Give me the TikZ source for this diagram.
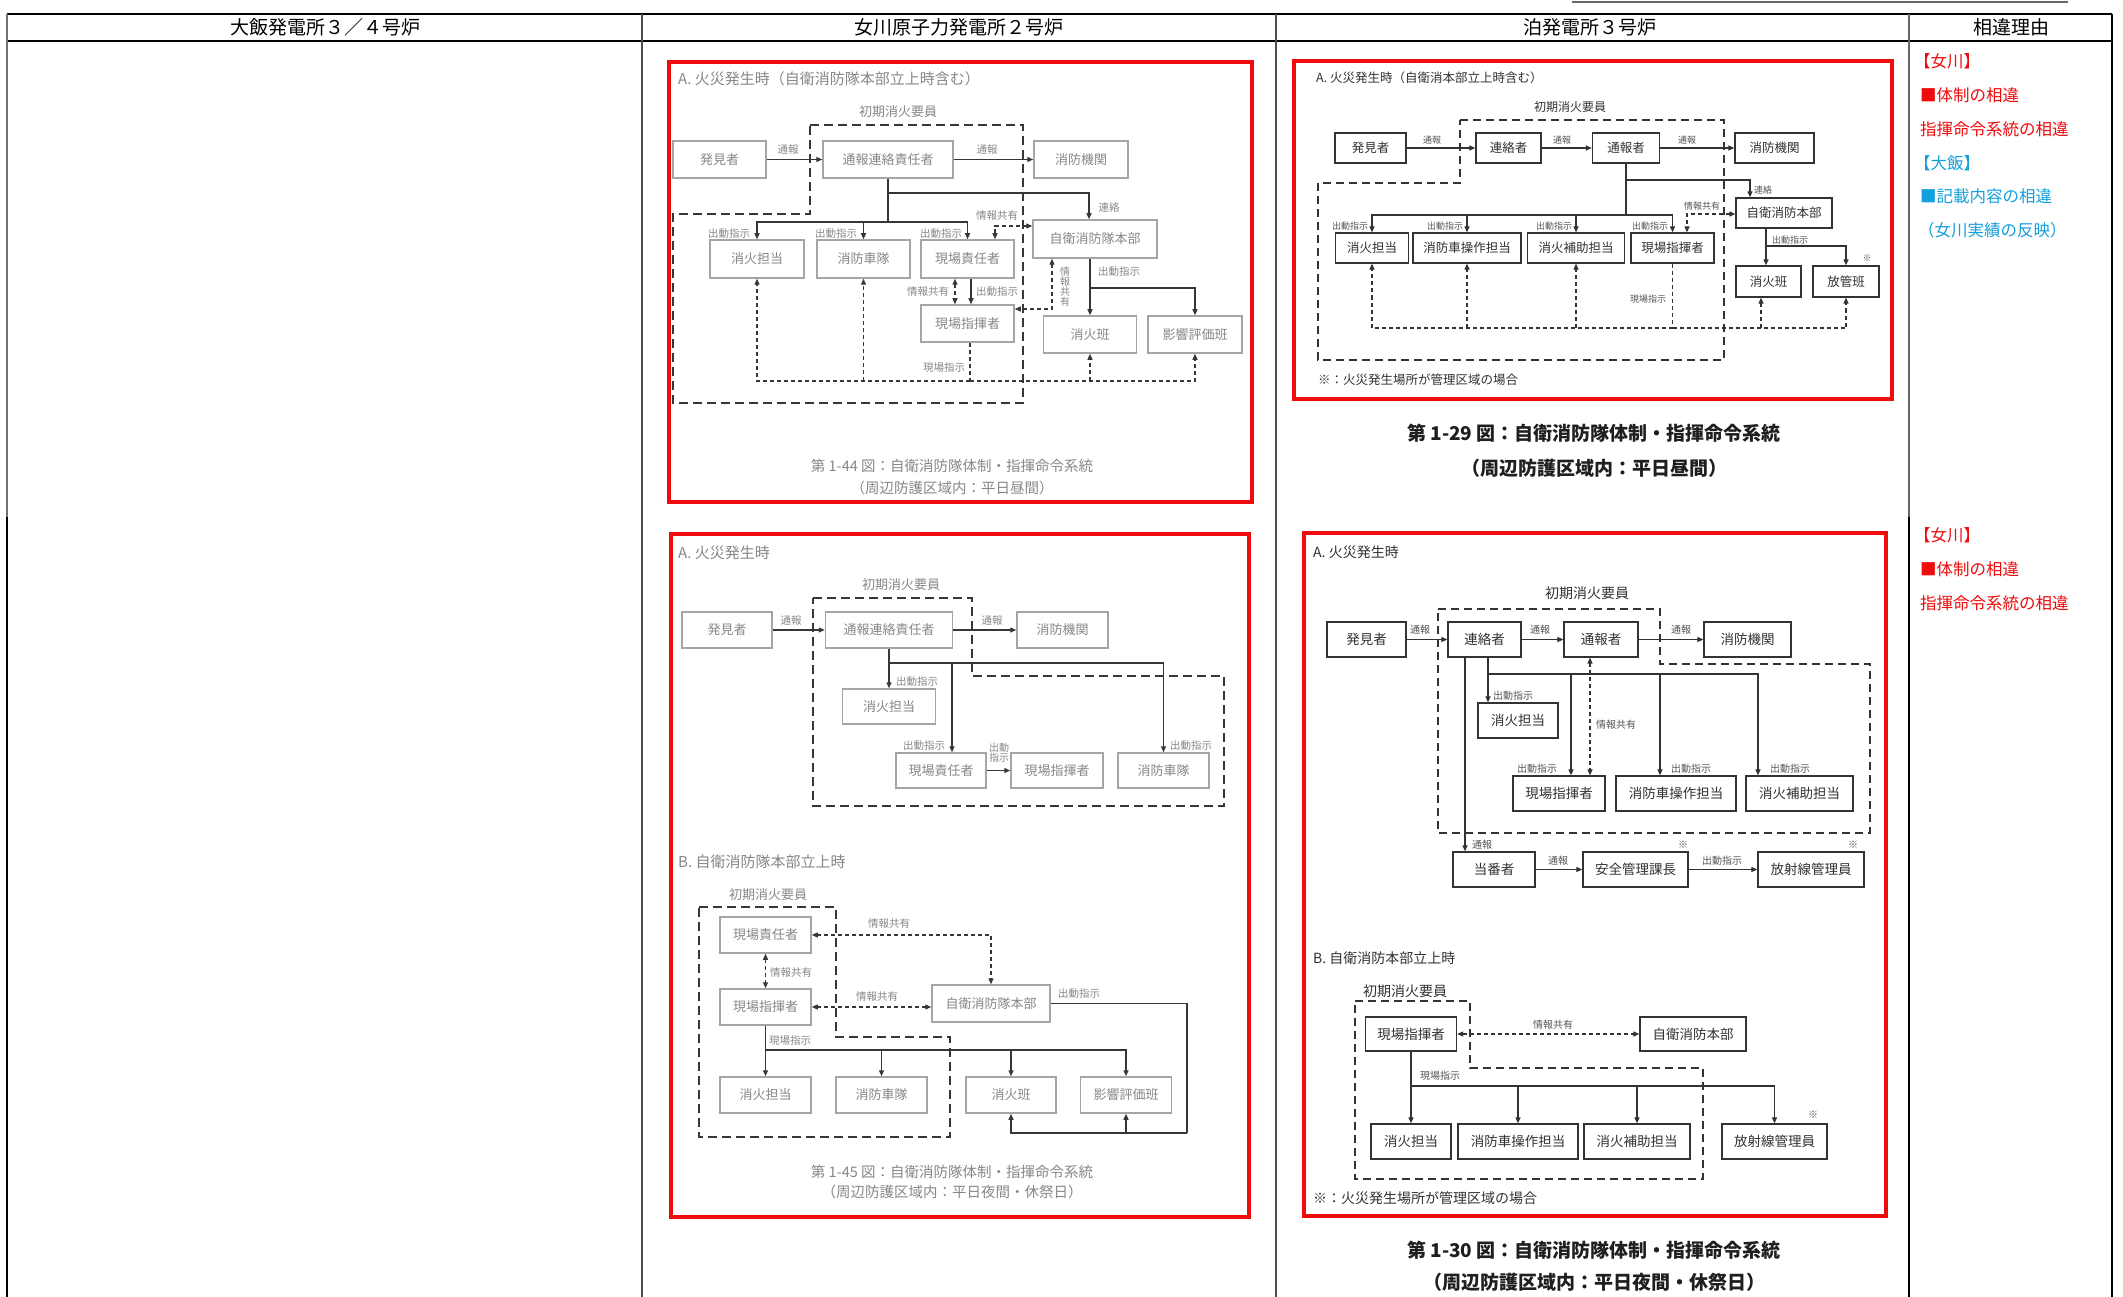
\documentclass[tikz,border=0pt]{standalone}
\usepackage{fontspec}
\setmainfont{Noto Sans CJK JP}
\usetikzlibrary{arrows.meta,calc}
\newcommand{\myfs}[1]{\fontsize{#1}{#1}\selectfont}
\definecolor{rd}{RGB}{238,12,12}
\definecolor{bl}{RGB}{20,160,220}
\definecolor{og}{RGB}{165,165,165}
\definecolor{ot}{RGB}{135,135,135}
\definecolor{oa}{RGB}{55,55,55}
\definecolor{td}{RGB}{50,50,50}
\definecolor{tl}{RGB}{85,85,85}
\tikzset{
  sz/.style 2 args={minimum width=#1, minimum height=#2},
  redbox/.style={draw=rd, line width=3.6pt},
  obox/.style={draw=og, line width=1.5pt, text=ot, inner sep=0pt, font=\myfs{13}},
  otitle/.style={text=ot, inner sep=0pt, font=\myfs{15}},
  ogrp/.style={text=ot, inner sep=0pt, font=\myfs{13}},
  ocap/.style={text=ot, inner sep=0pt, font=\myfs{14.5}},
  olbl/.style={text=ot, inner sep=0pt, font=\myfs{10.5}},
  oline/.style={draw=oa, line width=1.3pt},
  oarr/.style={oline, -{Triangle[length=6pt,width=5pt]}},
  odsh/.style={draw=oa, line width=1.2pt, dash pattern=on 4pt off 3pt},
  odarr/.style={odsh, -{Triangle[length=6pt,width=5pt]}},
  odarr2/.style={odsh, {Triangle[length=6pt,width=5pt]}-{Triangle[length=6pt,width=5pt]}},
  obnd/.style={draw=oa, line width=2.4pt, dash pattern=on 9pt off 5pt},
  tbox/.style={draw=td, line width=1.3pt, text=td, inner sep=0pt, font=\myfs{12.5}},
  tboxb/.style={tbox, font=\myfs{13.5}},
  ttitle/.style={text=td, inner sep=0pt, font=\myfs{12.5}},
  ttitle2/.style={text=td, inner sep=0pt, font=\myfs{14}},
  tgrp/.style={text=td, inner sep=0pt, font=\myfs{12}},
  tgrp2/.style={text=td, inner sep=0pt, font=\myfs{14}},
  tlbl/.style={text=tl, inner sep=0pt, font=\myfs{9}},
  tlbl2/.style={text=tl, inner sep=0pt, font=\myfs{10}},
  tfoot/.style={text=td, inner sep=0pt, font=\myfs{12.5}},
  tfoot2/.style={text=td, inner sep=0pt, font=\myfs{14}},
  tcap/.style={text=black!88, inner sep=0pt, font=\myfs{19}\bfseries},
  tline/.style={draw=td, line width=1.2pt},
  tarr/.style={tline, -{Triangle[length=6pt,width=5pt]}},
  tdsh/.style={draw=td, line width=1.1pt, dash pattern=on 4pt off 3pt},
  tdarr/.style={tdsh, -{Triangle[length=6pt,width=5pt]}},
  tdarr2/.style={tdsh, {Triangle[length=6pt,width=5pt]}-{Triangle[length=6pt,width=5pt]}},
  tbnd/.style={draw=td, line width=2.2pt, dash pattern=on 8pt off 5pt},
  hdr/.style={inner sep=0pt, font=\myfs{19}},
  rsn/.style={inner sep=0pt, font=\myfs{16.5}, anchor=west}
}
\begin{document}
\begin{tikzpicture}[x=1pt,y=-1pt]
\fill[white] (0,0) rectangle (2123,1297);
\useasboundingbox (0,0) rectangle (2123,1297);
% ---------------- table ----------------
\draw[line width=2pt, black!60] (1572,2) -- (2068,2);
\draw[line width=2.6pt] (7,14) -- (2112,14);
\draw[line width=1.2pt] (7,41) -- (2112,41);
\draw[line width=1.2pt, black!70] (642,14) -- (642,1297);
\draw[line width=1.2pt, black!70] (1276,14) -- (1276,1297);
\draw[line width=1.5pt, black!55] (7,14) -- (7,517);
\draw[line width=1.8pt] (7,517) -- (7,1297);
\draw[line width=1.3pt, black!60] (1909,14) -- (1909,517);
\draw[line width=1.8pt] (1909,517) -- (1909,1297);
\draw[line width=1.5pt] (2112,14) -- (2112,1297);
\node[hdr] (h1) at (325,27) {大飯発電所３／４号炉};
\node[hdr] (h2) at (959,27) {女川原子力発電所２号炉};
\node[hdr] (h3) at (1590,27) {泊発電所３号炉};
\node[hdr] (h4) at (2011,27) {相違理由};
% reasons
\node[rsn, text=rd] (r1) at (1914,61) {【女川】};
\node[rsn, text=rd] (r2) at (1920,95) {■体制の相違};
\node[rsn, text=rd] (r3) at (1920,129) {指揮命令系統の相違};
\node[rsn, text=bl] (r4) at (1914,163) {【大飯】};
\node[rsn, text=bl] (r5) at (1920,196) {■記載内容の相違};
\node[rsn, text=bl] (r6) at (1918,230) {（女川実績の反映）};
\node[rsn, text=rd] (r7) at (1914,535) {【女川】};
\node[rsn, text=rd] (r8) at (1920,569) {■体制の相違};
\node[rsn, text=rd] (r9) at (1920,603) {指揮命令系統の相違};
% ================= Onagawa top =================
\draw[redbox] (669,62) rectangle (1252,502);
\node[otitle, anchor=west] (OTt) at (678,79) {A. 火災発生時（自衛消防隊本部立上時含む）};
\node[ogrp] (OTg) at (898,112) {初期消火要員};
\draw[obnd] (810,125) -- (1023,125) -- (1023,403) -- (673,403) -- (673,214) -- (810,214) -- cycle;
\node[obox, sz={93}{37}] (OT1) at (719.5,159.5) {発見者};
\node[obox, sz={130}{37}] (OT2) at (888,159.5) {通報連絡責任者};
\node[obox, sz={94}{37}] (OT3) at (1081,159.5) {消防機関};
\node[obox, sz={94}{38}] (OT4) at (757,259) {消火担当};
\node[obox, sz={93}{38}] (OT5) at (863.5,259) {消防車隊};
\node[obox, sz={93}{38}] (OT6) at (967.5,259) {現場責任者};
\node[obox, sz={124}{38}] (OT7) at (1095,239) {自衛消防隊本部};
\node[obox, sz={93}{37}] (OT8) at (967.5,323.5) {現場指揮者};
\node[obox, sz={93}{37}] (OT9) at (1090,334.5) {消火班};
\node[obox, sz={94}{37}] (OT10) at (1195,334.5) {影響評価班};
\draw[oarr] (OT1.east) -- (OT2.west);
\node[olbl] (OTl1) at (788,150) {通報};
\draw[oarr] (OT2.east) -- (OT3.west);
\node[olbl] (OTl2) at (987,150) {通報};
\coordinate (OTj1) at (888,193);
\coordinate (OTj2) at (888,222);
\coordinate (OTc0) at (1089,0);
\draw[oarr] (OT2.south) -- (OTj1) -| (OT7.north -| OTc0);
\node[olbl] (OTl3) at (1109,208) {連絡};
\draw[oline] (OTj1) -- (OTj2);
\draw[oarr] (OTj2) -| (OT4.north);
\draw[oarr] (OTj2) -| (OT6.north);
\draw[oarr] (OT5.north |- OTj2) -- (OT5.north);
\node[olbl] (OTl4) at (729,234) {出動指示};
\node[olbl] (OTl5) at (836,234) {出動指示};
\node[olbl] (OTl6) at (941,234) {出動指示};
\coordinate (OTc1) at (995,226);
\draw[odarr2] (OT7.west |- OTc1) -- (OTc1) -- (OT6.north -| OTc1);
\node[olbl] (OTl7) at (997,216) {情報共有};
\coordinate (OTc2) at (955,0);
\coordinate (OTc3) at (971,0);
\draw[odarr2] (OT6.south -| OTc2) -- (OT8.north -| OTc2);
\draw[oarr] (OT6.south -| OTc3) -- (OT8.north -| OTc3);
\node[olbl] (OTl8) at (928,292) {情報共有};
\node[olbl] (OTl9) at (997,292) {出動指示};
\coordinate (OTc4) at (1052,309);
\draw[odarr2] (OT7.south -| OTc4) -- (OTc4) -- (OT8.east |- OTc4);
\node[olbl, align=center, font=\myfs{10}] (OTl10) at (1065,287) {情\\報\\共\\有};
\coordinate (OTj3) at (1090,288);
\draw[oarr] (OT7.south -| OTj3) -- (OT9.north);
\draw[oarr] (OTj3) -| (OT10.north);
\node[olbl] (OTl11) at (1119,272) {出動指示};
\coordinate (OTj4) at (970,381);
\draw[odsh] (OT8.south -| OTj4) -- (OTj4);
\draw[odarr] (OTj4) -| (OT4.south);
\draw[odarr] (OTj4) -| (OT10.south);
\draw[odarr] (OT5.south |- OTj4) -- (OT5.south);
\draw[odarr] (OT9.south |- OTj4) -- (OT9.south);
\node[olbl] (OTl12) at (944,368) {現場指示};
\node[ocap] (OTcap1) at (952,466) {第 1-44 図：自衛消防隊体制・指揮命令系統};
\node[ocap] (OTcap2) at (952,488) {（周辺防護区域内：平日昼間）};
% ================= Onagawa bottom =================
\draw[redbox] (671,534) rectangle (1249,1217);
\node[otitle, anchor=west] (OAt) at (678,553) {A. 火災発生時};
\node[ogrp] (OAg) at (901,585) {初期消火要員};
\draw[obnd] (813,598) -- (972,598) -- (972,676) -- (1224,676) -- (1224,806) -- (813,806) -- cycle;
\node[obox, sz={90}{36}] (OA1) at (727,630) {発見者};
\node[obox, sz={127}{36}] (OA2) at (889,630) {通報連絡責任者};
\node[obox, sz={91}{36}] (OA3) at (1062.5,630) {消防機関};
\node[obox, sz={93}{35}] (OA4) at (889,706.5) {消火担当};
\node[obox, sz={90}{35}] (OA5) at (941,770.5) {現場責任者};
\node[obox, sz={92}{35}] (OA6) at (1057,770.5) {現場指揮者};
\node[obox, sz={91}{35}] (OA7) at (1163.5,770.5) {消防車隊};
\draw[oarr] (OA1.east) -- (OA2.west);
\node[olbl] (OAl1) at (791,621) {通報};
\draw[oarr] (OA2.east) -- (OA3.west);
\node[olbl] (OAl2) at (992,621) {通報};
\coordinate (OAj1) at (889,663);
\coordinate (OAc1) at (952,0);
\draw[oarr] (OA2.south) -- (OA4.north);
\draw[oarr] (OAj1) -| (OA5.north -| OAc1);
\draw[oarr] (OAj1) -| (OA7.north);
\node[olbl] (OAl3) at (917,682) {出動指示};
\node[olbl] (OAl4) at (924,746) {出動指示};
\node[olbl] (OAl5) at (1191,746) {出動指示};
\draw[oarr] (OA5.east) -- (OA6.west);
\node[olbl, align=center, font=\myfs{10}] (OAl6) at (999,753) {出動\\指示};
\node[otitle, anchor=west] (OBt) at (678,862) {B. 自衛消防隊本部立上時};
\node[ogrp] (OBg) at (768,895) {初期消火要員};
\draw[obnd] (699,907) -- (836,907) -- (836,1037) -- (950,1037) -- (950,1137) -- (699,1137) -- cycle;
\node[obox, sz={91}{36}] (OB1) at (765.5,935) {現場責任者};
\node[obox, sz={91}{36}] (OB2) at (765.5,1007) {現場指揮者};
\node[obox, sz={118}{37}] (OB3) at (991,1003.5) {自衛消防隊本部};
\node[obox, sz={91}{36}] (OB4) at (765.5,1095) {消火担当};
\node[obox, sz={91}{36}] (OB5) at (881.5,1095) {消防車隊};
\node[obox, sz={90}{36}] (OB6) at (1011,1095) {消火班};
\node[obox, sz={91}{36}] (OB7) at (1126,1095) {影響評価班};
\draw[odarr2] (OB1.east) -| (OB3.north);
\node[olbl] (OBl1) at (889,924) {情報共有};
\draw[odarr2] (OB1.south) -- (OB2.north);
\node[olbl, anchor=west] (OBl2) at (770,973) {情報共有};
\draw[odarr2] (OB2.east) -- (OB3.west |- OB2.east);
\node[olbl] (OBl3) at (877,997) {情報共有};
\coordinate (OBj1) at (1187,1133);
\draw[oline] (OB3.east) -| (OBj1);
\draw[oarr] (OBj1) -| (OB6.south);
\draw[oarr] (OB7.south |- OBj1) -- (OB7.south);
\node[olbl] (OBl4) at (1079,994) {出動指示};
\coordinate (OBj2) at (765.5,1050);
\draw[oarr] (OB2.south) -- (OB4.north);
\draw[oarr] (OBj2) -| (OB7.north);
\draw[oarr] (OB5.north |- OBj2) -- (OB5.north);
\draw[oarr] (OB6.north |- OBj2) -- (OB6.north);
\node[olbl, anchor=west] (OBl5) at (769,1041) {現場指示};
\node[ocap] (OBcap1) at (952,1172) {第 1-45 図：自衛消防隊体制・指揮命令系統};
\node[ocap] (OBcap2) at (952,1192) {（周辺防護区域内：平日夜間・休祭日）};
% ================= Tomari top =================
\draw[redbox] (1294,61) rectangle (1892,399);
\node[ttitle, anchor=west] (TTt) at (1316,78) {A. 火災発生時（自衛消本部立上時含む）};
\node[tgrp] (TTg) at (1570,107) {初期消火要員};
\draw[tbnd] (1460,120) -- (1724,120) -- (1724,360) -- (1318,360) -- (1318,183) -- (1460,183) -- cycle;
\node[tbox, sz={71}{30}] (TT1) at (1370.5,148) {発見者};
\node[tbox, sz={65}{30}] (TT2) at (1508.5,148) {連絡者};
\node[tbox, sz={67}{30}] (TT3) at (1626,148) {通報者};
\node[tbox, sz={79}{30}] (TT4) at (1774.5,148) {消防機関};
\node[tbox, sz={96}{30}] (TT5) at (1784,213) {自衛消防本部};
\node[tbox, sz={73}{30}] (TT6) at (1372,248) {消火担当};
\node[tbox, sz={108}{30}] (TT7) at (1467,248) {消防車操作担当};
\node[tbox, sz={97}{30}] (TT8) at (1576,248) {消火補助担当};
\node[tbox, sz={83}{30}] (TT9) at (1672.5,248) {現場指揮者};
\node[tbox, sz={65}{31}] (TT10) at (1768.5,281.5) {消火班};
\node[tbox, sz={66}{31}] (TT11) at (1846,281.5) {放管班};
\draw[tarr] (TT1.east) -- (TT2.west);
\node[tlbl] (TTl1) at (1432,140) {通報};
\draw[tarr] (TT2.east) -- (TT3.west);
\node[tlbl] (TTl2) at (1562,140) {通報};
\draw[tarr] (TT3.east) -- (TT4.west);
\node[tlbl] (TTl3) at (1687,140) {通報};
\coordinate (TTj1) at (1626,180);
\coordinate (TTj2) at (1626,215);
\coordinate (TTc1) at (1750,0);
\draw[tarr] (TT3.south) -- (TTj1) -| (TT5.north -| TTc1);
\node[tlbl, anchor=west] (TTl4) at (1754,190) {連絡};
\draw[tline] (TTj1) -- (TTj2);
\draw[tarr] (TTj2) -| (TT6.north);
\draw[tarr] (TTj2) -| (TT9.north);
\draw[tarr] (TT7.north |- TTj2) -- (TT7.north);
\draw[tarr] (TT8.north |- TTj2) -- (TT8.north);
\node[tlbl] (TTl5) at (1350,226) {出動指示};
\node[tlbl] (TTl6) at (1445,226) {出動指示};
\node[tlbl] (TTl7) at (1554,226) {出動指示};
\node[tlbl] (TTl8) at (1650,226) {出動指示};
\coordinate (TTc2) at (1687,214);
\draw[tdarr2] (TT5.west |- TTc2) -- (TTc2) -- (TT9.north -| TTc2);
\node[tlbl] (TTl9) at (1702,206) {情報共有};
\coordinate (TTj3) at (1766,246);
\draw[tarr] (TT5.south -| TTj3) -- (TT10.north -| TTj3);
\draw[tarr] (TTj3) -| (TT11.north);
\node[tlbl] (TTl10) at (1790,240) {出動指示};
\node[tlbl] (TTs1) at (1867,258) {※};
\coordinate (TTj4) at (1672.5,328);
\coordinate (TTc3) at (1761,0);
\draw[tdsh] (TT9.south) -- (TTj4);
\draw[tdarr] (TTj4) -| (TT6.south);
\draw[tdarr] (TTj4) -| (TT11.south);
\draw[tdarr] (TT7.south |- TTj4) -- (TT7.south);
\draw[tdarr] (TT8.south |- TTj4) -- (TT8.south);
\draw[tdarr] (TTc3 |- TTj4) -- (TT10.south -| TTc3);
\node[tlbl] (TTl11) at (1648,299) {現場指示};
\node[tfoot, anchor=west] (TTf) at (1318,380) {※：火災発生場所が管理区域の場合};
\node[tcap] (TTcap1) at (1594,433) {第 1-29 図：自衛消防隊体制・指揮命令系統};
\node[tcap] (TTcap2) at (1594,468) {（周辺防護区域内：平日昼間）};
% ================= Tomari bottom =================
\draw[redbox] (1304,533) rectangle (1886,1216);
\node[ttitle2, anchor=west] (TAt) at (1313,552) {A. 火災発生時};
\node[tgrp2] (TAg) at (1587,593) {初期消火要員};
\draw[tbnd] (1438,609) -- (1660,609) -- (1660,664) -- (1870,664) -- (1870,833) -- (1438,833) -- cycle;
\node[tboxb, sz={79}{35}] (TA1) at (1366.5,639.5) {発見者};
\node[tboxb, sz={73}{35}] (TA2) at (1484.5,639.5) {連絡者};
\node[tboxb, sz={74}{35}] (TA3) at (1601,639.5) {通報者};
\node[tboxb, sz={87}{35}] (TA4) at (1747.5,639.5) {消防機関};
\node[tboxb, sz={80}{35}] (TA5) at (1518,720.5) {消火担当};
\node[tboxb, sz={92}{35}] (TA6) at (1559,793.5) {現場指揮者};
\node[tboxb, sz={120}{35}] (TA7) at (1676,793.5) {消防車操作担当};
\node[tboxb, sz={107}{35}] (TA8) at (1799.5,793.5) {消火補助担当};
\node[tboxb, sz={82}{35}] (TA9) at (1494,869.5) {当番者};
\node[tboxb, sz={105}{35}] (TA10) at (1635.5,869.5) {安全管理課長};
\node[tboxb, sz={106}{35}] (TA11) at (1811,869.5) {放射線管理員};
\draw[tarr] (TA1.east) -- (TA2.west);
\node[tlbl2] (TAl1) at (1420,630) {通報};
\draw[tarr] (TA2.east) -- (TA3.west);
\node[tlbl2] (TAl2) at (1540,630) {通報};
\draw[tarr] (TA3.east) -- (TA4.west);
\node[tlbl2] (TAl3) at (1681,630) {通報};
\coordinate (TAc1) at (1465,0);
\draw[tarr] (TA2.south -| TAc1) -- (TA9.north -| TAc1);
\node[tlbl2] (TAl4) at (1482,845) {通報};
\coordinate (TAj1) at (1488,674);
\coordinate (TAc2) at (1571,0);
\coordinate (TAc3) at (1660,0);
\coordinate (TAc4) at (1758,0);
\draw[tarr] (TA2.south -| TAj1) -- (TA5.north -| TAj1);
\draw[tarr] (TAj1) -| (TA8.north -| TAc4);
\draw[tarr] (TAc2 |- TAj1) -- (TA6.north -| TAc2);
\draw[tarr] (TAc3 |- TAj1) -- (TA7.north -| TAc3);
\node[tlbl2] (TAl5) at (1513,696) {出動指示};
\node[tlbl2] (TAl6) at (1537,769) {出動指示};
\node[tlbl2] (TAl7) at (1691,769) {出動指示};
\node[tlbl2] (TAl8) at (1790,769) {出動指示};
\coordinate (TAc5) at (1590,0);
\draw[tdarr2] (TA3.south -| TAc5) -- (TA6.north -| TAc5);
\node[tlbl2, anchor=west] (TAl9) at (1596,725) {情報共有};
\draw[tarr] (TA9.east) -- (TA10.west);
\node[tlbl2] (TAl10) at (1558,861) {通報};
\draw[tarr] (TA10.east) -- (TA11.west);
\node[tlbl2] (TAl11) at (1722,861) {出動指示};
\node[tlbl2] (TAs1) at (1683,845) {※};
\node[tlbl2] (TAs2) at (1853,845) {※};
\node[ttitle2, anchor=west] (TBt) at (1313,958) {B. 自衛消防本部立上時};
\node[tgrp2] (TBg) at (1405,991) {初期消火要員};
\draw[tbnd] (1355,1001) -- (1470,1001) -- (1470,1068) -- (1703,1068) -- (1703,1179) -- (1355,1179) -- cycle;
\node[tboxb, sz={91}{34}] (TB1) at (1411,1034) {現場指揮者};
\node[tboxb, sz={106}{34}] (TB2) at (1693,1034) {自衛消防本部};
\node[tboxb, sz={80}{35}] (TB3) at (1411,1141.5) {消火担当};
\node[tboxb, sz={120}{35}] (TB4) at (1518,1141.5) {消防車操作担当};
\node[tboxb, sz={106}{35}] (TB5) at (1637,1141.5) {消火補助担当};
\node[tboxb, sz={105}{35}] (TB6) at (1774.5,1141.5) {放射線管理員};
\node[tlbl2] (TBs1) at (1813,1115) {※};
\draw[tdarr2] (TB1.east) -- (TB2.west);
\node[tlbl2] (TBl1) at (1553,1025) {情報共有};
\coordinate (TBj1) at (1411,1086);
\draw[tarr] (TB1.south) -- (TB3.north);
\draw[tarr] (TBj1) -| (TB6.north);
\draw[tarr] (TB4.north |- TBj1) -- (TB4.north);
\draw[tarr] (TB5.north |- TBj1) -- (TB5.north);
\node[tlbl2] (TBl2) at (1440,1076) {現場指示};
\node[tfoot2, anchor=west] (TBf) at (1313,1198) {※：火災発生場所が管理区域の場合};
\node[tcap] (TBcap1) at (1594,1250) {第 1-30 図：自衛消防隊体制・指揮命令系統};
\node[tcap] (TBcap2) at (1594,1282) {（周辺防護区域内：平日夜間・休祭日）};
\end{tikzpicture}
\end{document}
